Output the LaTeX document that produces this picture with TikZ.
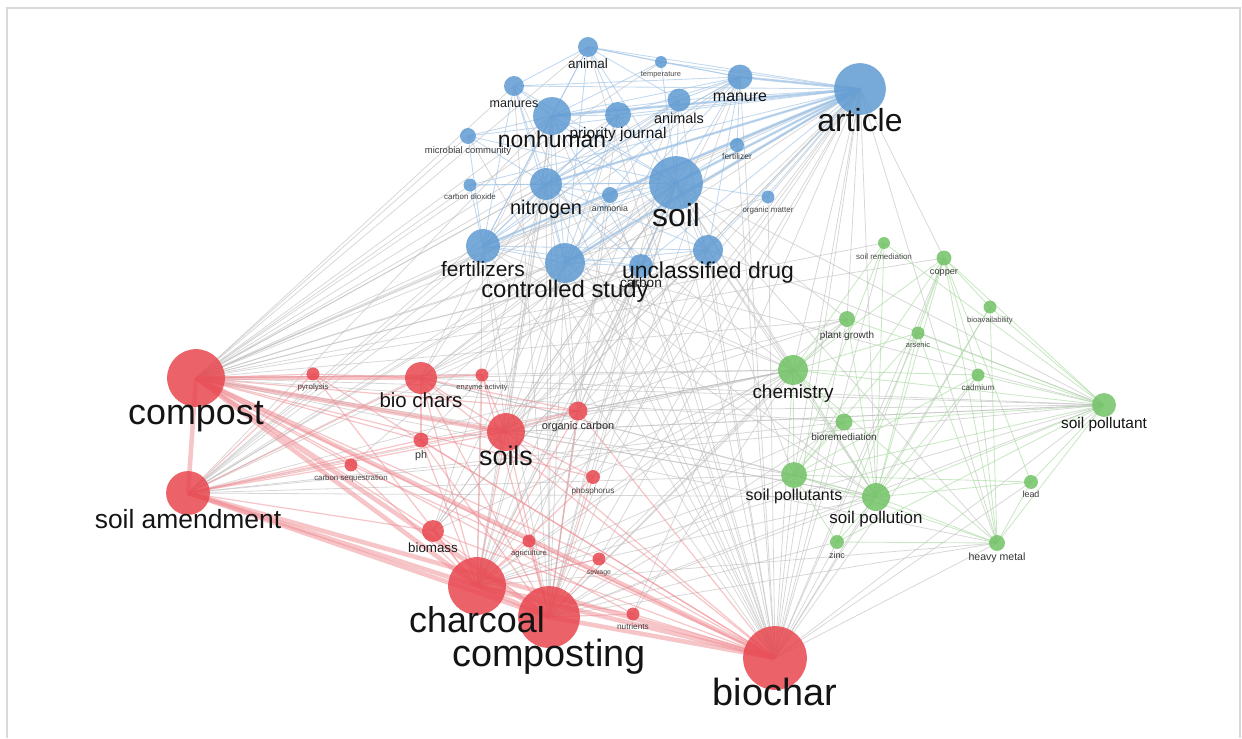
\documentclass[tikz,border=0pt]{standalone}
\usepackage{fontspec}
\setmainfont{Liberation Sans}
\usepackage{tikz}
\definecolor{kwblue}{HTML}{5F9AD2}
\definecolor{kwred}{HTML}{E8474F}
\definecolor{kwgreen}{HTML}{72C266}
\definecolor{edblue}{HTML}{9CC0E3}
\definecolor{edred}{HTML}{EE8C92}
\definecolor{edgrey}{HTML}{BDBDBD}
\definecolor{edgreen}{HTML}{A8D8A0}
\pgfdeclarelayer{edges}
\pgfsetlayers{edges,main}
\newcommand\pxfont[1]{\fontsize{\fpeval{0.567*#1}pt}{\fpeval{0.7*#1}pt}\selectfont}
% keywords: name/x/y/radius/label y/font px/label
\newcommand\bluekw{animal/588/47/10/61/13.6/animal, temperature/661/62/6/70/7.5/temperature,
 manures/514/86/10/100/12.6/manures, manure/740/77/12.5/93/16/manure,
 article/860/89/26/120/32/article, animals/679/100/11.5/115/14.5/animals,
 nonhuman/552/116/19/138/23/nonhuman, priority/618/115/13/130/15.5/priority journal,
 microbial/468/136/8/147/9.5/microbial community, fertilizer/737/145/7/153/8.5/fertilizer,
 nitrogen/546/184/16/205/20/nitrogen, soil/676/183/27/215/32/soil,
 ammonia/610/195/8/205/8.8/ammonia, codioxide/470/185/6.5/193/8/carbon dioxide,
 orgmatter/768/197/6.5/206/8/organic matter, fertilizers/483/246/17/267/21/fertilizers,
 controlled/565/263/20/287/24/controlled study, carbon/641/266/12/280/13.7/carbon,
 unclassified/708/250/15/269/23/unclassified drug}
\newcommand\redkw{compost/196/378/29/412/36/compost, amendment/188/493/22/518/26.5/soil amendment,
 pyrolysis/313/374/6.5/383/8/pyrolysis, biochars/421/378/16/398/20.5/bio chars,
 enzyme/482/375/6.5/383/7.5/enzyme activity, orgcarbon/578/411/9.5/422/11/organic carbon,
 soils/506/432/19/455/27/soils, ph/421/440/7.5/451/10.8/ph,
 cseq/351/465/6.5/474/7.9/carbon sequestration, phosphorus/593/477/7/487/8.2/phosphorus,
 biomass/433/531/11/545/13.4/biomass, agriculture/529/541/6.5/549/7.7/agriculture,
 sewage/599/559/6.5/568/7/sewage, charcoal/477/586/29/620/36/charcoal,
 nutrients/633/614/6.5/623/8.3/nutrients, composting/549/617/31/653/38/composting,
 biochar/775/658/32/692/38/biochar}
\newcommand\greenkw{soilrem/884/243/6/253/8/soil remediation, copper/944/258/7.5/268/9.2/copper,
 bioavail/990/307/6.5/316/7.7/bioavailability, plantgrowth/847/319/8/331/10/plant growth,
 arsenic/918/333/6.5/341/7.5/arsenic, chemistry/793/370/15/389/19/chemistry,
 cadmium/978/375/6.5/384/8.1/cadmium, pollutant/1104/405/12/420/15.5/soil pollutant,
 bioremed/844/422/8.5/433/10/bioremediation, pollutants/794/475/13/492/16/soil pollutants,
 pollution/876/497/14/515/17/soil pollution, lead/1031/482/7/491/9/lead,
 zinc/837/542/7/552/9/zinc, heavymetal/997/543/8/553/10.6/heavy metal}
\begin{document}
\begin{tikzpicture}[x=0.02cm,y=-0.02cm,
  kw/.style={circle,inner sep=0pt,draw=none,fill opacity=0.85,minimum size={1.134*#1 pt}},
  bkw/.style={kw=#1,fill=kwblue},rkw/.style={kw=#1,fill=kwred},gkw/.style={kw=#1,fill=kwgreen},
  lbl/.style={font=\pxfont{#1},text=black!92,text opacity={min(1,0.5+0.035*#1)},inner sep=0pt,
    text height=0.75em,text depth=0.2em,yshift={-0.125*#1 pt}},
  edg/.style={draw=edgrey,line width=0.45pt,draw opacity=0.6},
  edb/.style={draw=edblue,line width=0.5pt,draw opacity=0.6},
  edr/.style={draw=edred,line width=0.7pt,draw opacity=0.5},
  edgn/.style={draw=edgreen,line width=0.5pt,draw opacity=0.6},
  heavy/.style={line width=#1pt}]
\useasboundingbox (0,0) rectangle (1242,738);
\draw[draw=black!15,line width=0.9pt] (7,738) |- (1240,8) -- (1240,738);
% circles
\foreach \n/\x/\y/\r/\ly/\fs/\t in \bluekw \node[bkw=\r] (\n) at (\x,\y) {};
\foreach \n/\x/\y/\r/\ly/\fs/\t in \redkw \node[rkw=\r] (\n) at (\x,\y) {};
\foreach \n/\x/\y/\r/\ly/\fs/\t in \greenkw \node[gkw=\r] (\n) at (\x,\y) {};
% labels
\foreach \n/\x/\y/\r/\ly/\fs/\t in \bluekw \node[lbl=\fs] (\n-l) at (\x,\ly) {\t};
\foreach \n/\x/\y/\r/\ly/\fs/\t in \redkw \node[lbl=\fs] (\n-l) at (\x,\ly) {\t};
\foreach \n/\x/\y/\r/\ly/\fs/\t in \greenkw \node[lbl=\fs] (\n-l) at (\x,\ly) {\t};
\begin{pgfonlayer}{edges}
% links between clusters
\foreach \s/\ts in {
 compost/{article,soil,nonhuman,nitrogen,fertilizers,controlled,unclassified,carbon,animal,manures,manure,animals,priority,microbial,codioxide,temperature,fertilizer,orgmatter,ammonia,chemistry,pollutant,pollutants,pollution,plantgrowth,heavymetal,bioremed,copper,soilrem},
 amendment/{article,soil,nonhuman,nitrogen,fertilizers,controlled,unclassified,carbon,manure,animals,chemistry,pollutant,pollutants,pollution,plantgrowth,bioremed},
 biochar/{article,soil,nonhuman,nitrogen,fertilizers,controlled,unclassified,carbon,animal,manure,manures,animals,priority,fertilizer,orgmatter,ammonia,microbial,soilrem,copper,bioavail,plantgrowth,arsenic,chemistry,cadmium,pollutant,bioremed,pollutants,pollution,lead,zinc,heavymetal},
 charcoal/{article,soil,nonhuman,nitrogen,fertilizers,controlled,unclassified,carbon,manure,animals,priority,chemistry,pollutants,pollution,pollutant,plantgrowth,heavymetal,bioremed},
 composting/{article,soil,nonhuman,nitrogen,fertilizers,controlled,unclassified,carbon,manure,manures,animals,priority,ammonia,chemistry,pollutants,pollution,pollutant,heavymetal,plantgrowth,bioremed,zinc},
 soils/{article,soil,nitrogen,fertilizers,controlled,unclassified,nonhuman,carbon,chemistry,pollutant,pollution,plantgrowth},
 biochars/{article,soil,controlled,unclassified,nitrogen,nonhuman,chemistry,pollution,pollutants},
 biomass/{article,soil,controlled,nitrogen,chemistry},
 orgcarbon/{soil,nitrogen,controlled,chemistry},
 article/{orgcarbon,phosphorus,biomass,sewage,nutrients,agriculture,chemistry,pollutants,pollution,heavymetal,plantgrowth,copper},
 soil/{orgcarbon,phosphorus,biomass,ph,cseq,agriculture,chemistry,pollutants,pollution,pollutant,plantgrowth,heavymetal},
 chemistry/{orgcarbon,phosphorus,ph,sewage,nutrients,controlled,fertilizers,nitrogen,unclassified},
 pollutant/{soils,biochars,orgcarbon,unclassified,controlled},
 pollution/{controlled,unclassified,fertilizers}}
 \foreach \t in \ts \draw[edg] (\s.center) -- (\t.center);
% blue cluster
\foreach \s/\ts in {
 article/{animal,temperature,manures,manure,animals,nonhuman,priority,microbial,fertilizer,nitrogen,soil,ammonia,codioxide,orgmatter,fertilizers,controlled,carbon,unclassified},
 soil/{animal,temperature,manures,manure,animals,nonhuman,priority,microbial,fertilizer,nitrogen,ammonia,codioxide,orgmatter,fertilizers,controlled,carbon,unclassified},
 nonhuman/{animal,manures,manure,animals,priority,microbial,nitrogen,fertilizers,controlled,carbon,unclassified,temperature},
 nitrogen/{manures,manure,animals,priority,ammonia,fertilizers,controlled,carbon,unclassified,codioxide,microbial},
 fertilizers/{manures,manure,animal,animals,priority,controlled,unclassified,carbon,microbial,codioxide},
 controlled/{animal,manures,manure,animals,priority,unclassified,carbon,ammonia},
 manure/{animal,manures,animals,priority,temperature,fertilizer,unclassified},
 animal/{manures,animals,priority,temperature}}
 \foreach \t in \ts \draw[edb] (\s.center) -- (\t.center);
\foreach \t in {soil,nonhuman,manure,controlled,fertilizers,nitrogen}
 \draw[edb,heavy=1.4] (article.center) -- (\t.center);
% green cluster
\foreach \s/\ts in {
 pollutant/{soilrem,copper,bioavail,plantgrowth,arsenic,chemistry,cadmium,bioremed,pollutants,pollution,lead,zinc,heavymetal},
 pollution/{soilrem,copper,bioavail,plantgrowth,arsenic,chemistry,cadmium,bioremed,pollutants,lead,zinc,heavymetal},
 pollutants/{soilrem,copper,chemistry,bioremed,heavymetal,zinc,lead,cadmium,arsenic},
 heavymetal/{copper,cadmium,lead,zinc,arsenic,chemistry,bioavail},
 chemistry/{soilrem,copper,plantgrowth,arsenic,cadmium,bioremed},
 copper/{cadmium,lead,arsenic,bioavail,zinc}}
 \foreach \t in \ts \draw[edgn] (\s.center) -- (\t.center);
% red cluster
\foreach \s/\ts in {
 compost/{pyrolysis,enzyme,orgcarbon,ph,cseq,phosphorus,biomass,agriculture,sewage,nutrients},
 amendment/{pyrolysis,biochars,soils,ph,cseq,biomass,orgcarbon},
 charcoal/{pyrolysis,biochars,enzyme,soils,ph,cseq,orgcarbon,biomass,agriculture,sewage,nutrients,phosphorus},
 composting/{biochars,soils,ph,orgcarbon,biomass,agriculture,sewage,nutrients,phosphorus,enzyme},
 biochar/{biochars,soils,ph,cseq,orgcarbon,biomass,agriculture,sewage,nutrients,pyrolysis},
 biochars/{soils,ph,pyrolysis,enzyme,orgcarbon},
 soils/{ph,orgcarbon,enzyme,phosphorus}}
 \foreach \t in \ts \draw[edr] (\s.center) -- (\t.center);
\foreach \s/\t in {compost/charcoal,compost/composting,compost/biochar,compost/amendment,
 amendment/charcoal,amendment/composting,amendment/biochar,charcoal/biochar,
 composting/biochar,charcoal/composting,compost/biochars,compost/soils}
 \draw[edr,heavy=2.6] (\s.center) -- (\t.center);
\end{pgfonlayer}
\end{tikzpicture}
\end{document}
